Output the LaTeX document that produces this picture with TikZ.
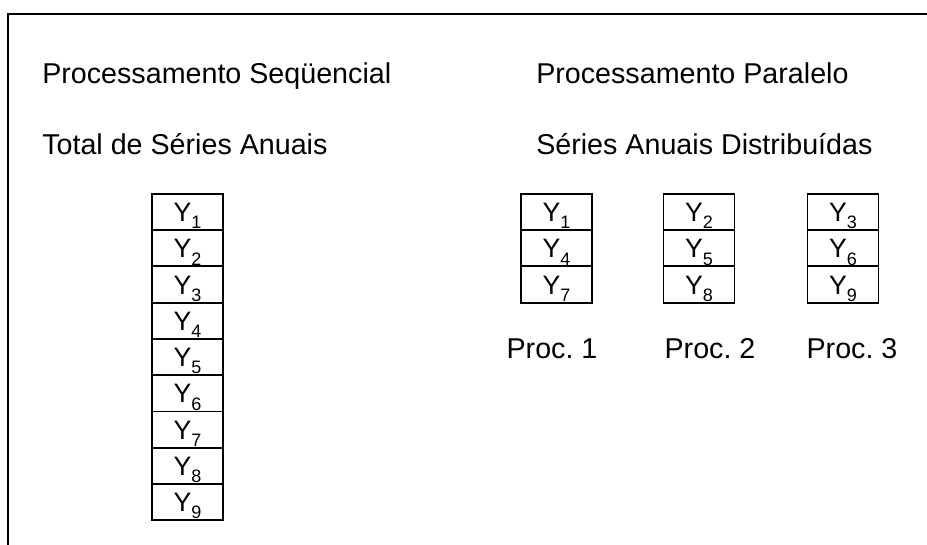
\documentclass[tikz,border=0pt]{standalone}
\usepackage{fontspec}
\setmainfont{Liberation Sans}
\usetikzlibrary{positioning}
\frenchspacing

% Y with a lowered index
\newcommand{\series}[1]{Y\raisebox{-5.5pt}{\fontsize{13.5}{13.5}\selectfont #1}}

\begin{document}
\begin{tikzpicture}[x=0.75pt, y=0.75pt,
  title/.style={anchor=base west, inner sep=0pt, font=\fontsize{21.5}{25}\selectfont},
  proclabel/.style={anchor=base, inner sep=0pt, font=\fontsize{21.5}{25}\selectfont},
  cell/.style={draw, line width=1.4pt, outer sep=0pt, inner sep=0pt,
    minimum width=53.25pt, minimum height=27.2pt, text height=14.3pt, text depth=0pt,
    font=\fontsize{20}{24}\selectfont},
  frame/.style={line width=1.6pt}
]
\useasboundingbox (0,0) rectangle (927,545);
\draw[frame] (8,0) -- (8,531) -- (927,531);

\node[title] (seqtitle) at (42,461) {Processamento Seqüencial};
\node[title] (partitle) at (536,461) {Processamento Paralelo};
\node[title] (total) at (42,390) {Total de Séries Anuais};
\node[title] (dist) at (536,390) {Séries Anuais Distribuídas};

% sequential: one stack
\node[cell] (seq1) at (187.5,333) {\series{1}};
\node[cell, below=0pt of seq1] (seq2) {\series{2}};
\node[cell, below=0pt of seq2] (seq3) {\series{3}};
\node[cell, below=0pt of seq3] (seq4) {\series{4}};
\node[cell, below=0pt of seq4] (seq5) {\series{5}};
\node[cell, below=0pt of seq5] (seq6) {\series{6}};
\node[cell, below=0pt of seq6] (seq7) {\series{7}};
\node[cell, below=0pt of seq7] (seq8) {\series{8}};
\node[cell, below=0pt of seq8] (seq9) {\series{9}};

% parallel: three stacks
\node[cell] (par1) at (556.5,333) {\series{1}};
\node[cell, below=0pt of par1] (par4) {\series{4}};
\node[cell, below=0pt of par4] (par7) {\series{7}};
\node[cell] (par2) at (699,333) {\series{2}};
\node[cell, below=0pt of par2] (par5) {\series{5}};
\node[cell, below=0pt of par5] (par8) {\series{8}};
\node[cell] (par3) at (843,333) {\series{3}};
\node[cell, below=0pt of par3] (par6) {\series{6}};
\node[cell, below=0pt of par6] (par9) {\series{9}};

\node[proclabel] (proc1) at (552,186) {Proc. 1};
\node[proclabel] (proc2) at (710,186) {Proc. 2};
\node[proclabel] (proc3) at (852,186) {Proc. 3};
\end{tikzpicture}
\end{document}
